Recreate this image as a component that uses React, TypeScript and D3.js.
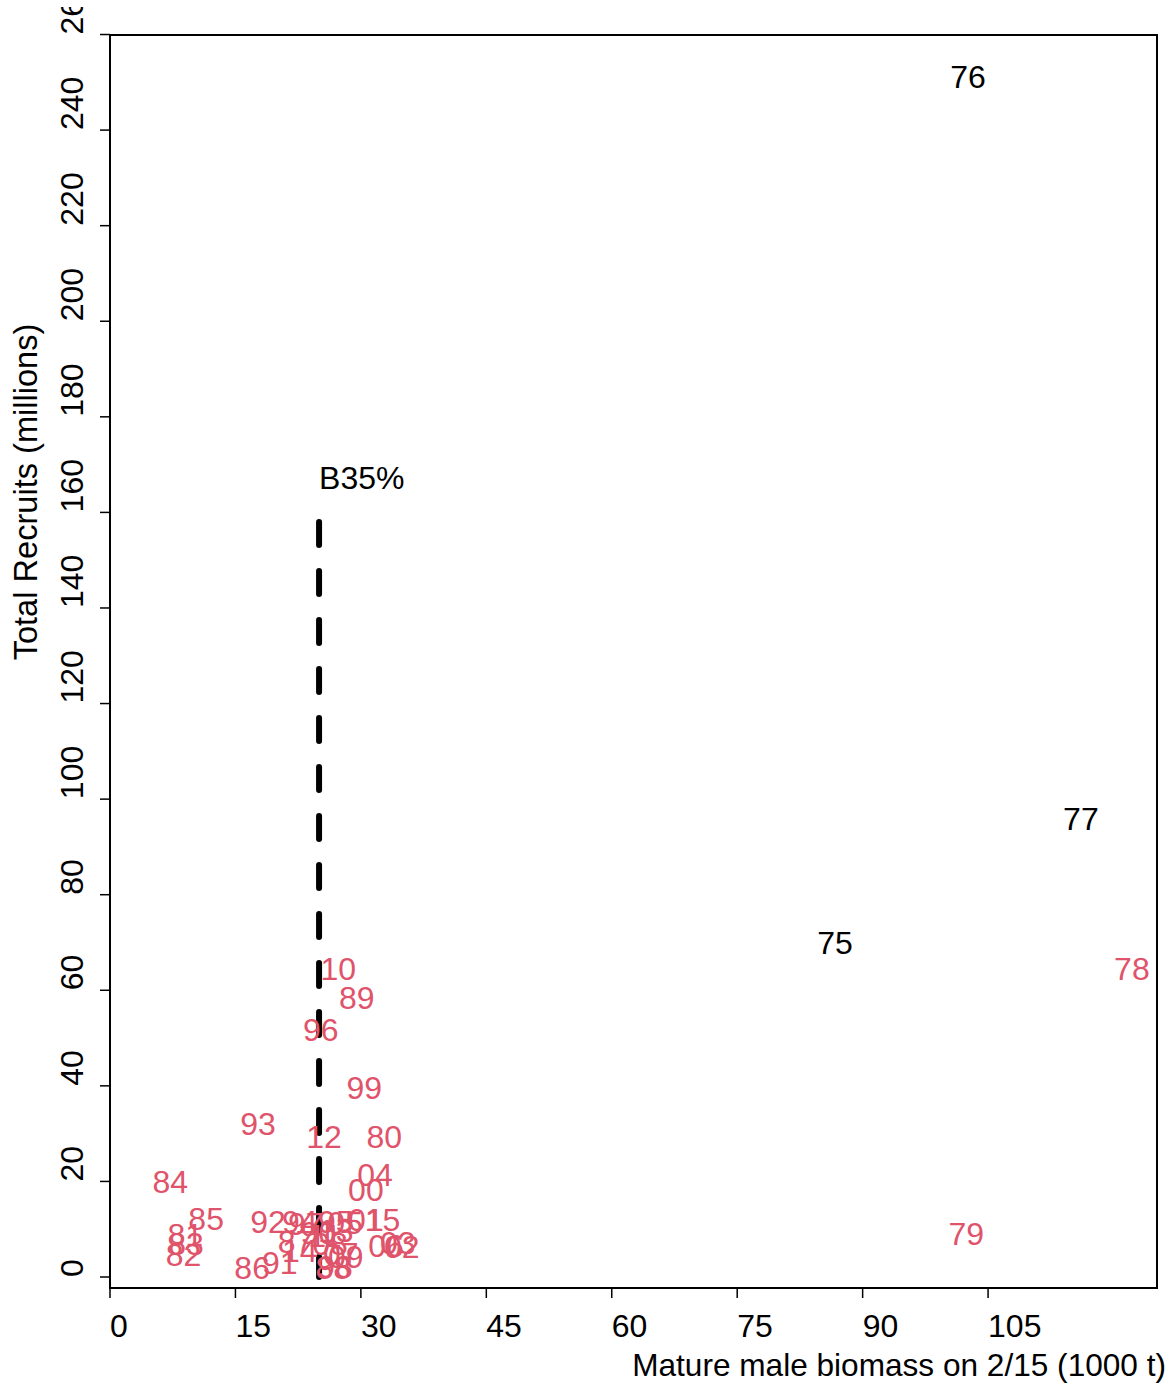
import React from "react";
import * as d3 from "d3";

// Year labels (brood years), spawning biomass (1000 t) and total recruits (millions)
const blackYears = ["75", "76", "77"];
const blackBiomass = [86.7, 102.6, 116.1];
const blackRecruits = [69.9, 251.2, 96.0];

const redYears = [
  "78", "79", "80", "81", "82", "83", "84", "85", "86", "87", "88", "89", "90", "91", "92", "93", "94", "95", "96", "97", "98", "99",
  "00", "01", "02", "03", "04", "05", "06", "07", "08", "09", "10", "11", "12", "13", "14", "15",
];
const redBiomass = [
  122.2, 102.4, 32.8, 9.0, 8.8, 9.1, 7.2, 11.5, 17.0, 22.2, 26.7, 29.5, 24.9, 20.3, 18.9, 17.7, 22.7, 27.0, 25.2, 23.4, 26.9, 30.4,
  30.6, 30.6, 34.9, 34.4, 31.7, 28.1, 33.0, 27.6, 26.3, 28.2, 27.3, 25.7, 25.6, 27.0, 22.7, 32.6,
];
const redRecruits = [
  64.6, 9.0, 29.3, 8.8, 4.8, 6.9, 19.9, 12.3, 1.9, 7.5, 1.9, 58.4, 9.2, 3.1, 11.7, 32.2, 11.7, 11.7, 51.7, 11.1, 2.1, 39.7,
  18.4, 12.1, 6.3, 7.3, 21.5, 11.5, 6.5, 5.0, 6.9, 4.2, 64.6, 8.6, 29.3, 9.8, 5.6, 12.1,
];

const xTicks = [0, 15, 30, 45, 60, 75, 90, 105];
const yTicks = [0, 20, 40, 60, 80, 100, 120, 140, 160, 180, 200, 220, 240, 260];

const B35 = 25.0;
const B35Top = 158;
const B35LabelY = 167.3;
const B35Label = "B35%";

const xTitle = "Mature male biomass on 2/15 (1000 t)";
const yTitle = "Total Recruits (millions)";

const W = 1174;
const H = 1392;
const LEFT = 110;
const RIGHT = 1157;
const TOP = 35;
const BOTTOM = 1288;
const RED = "#DF536B";
const FONT = "'Liberation Sans', Arial, Helvetica, sans-serif";
const FS = 32;

export default function App() {
  const x = d3.scaleLinear().domain([0, 125.2]).range([LEFT, RIGHT]);
  const y = d3.scaleLinear().domain([-2.3, 259.9]).range([BOTTOM, TOP]);
  const line = d3.line<[number, number]>().x((d) => x(d[0])).y((d) => y(d[1]));

  const blacks = blackYears.map((lab, i) => ({ lab, bx: blackBiomass[i], ry: blackRecruits[i] }));
  const reds = redYears.map((lab, i) => ({ lab, bx: redBiomass[i], ry: redRecruits[i] }));

  return (
    <svg
      width={W}
      height={H}
      style={{ position: "absolute", left: 0, top: 0, background: "#fff" }}
      fontFamily={FONT}
    >
      <defs>
        <clipPath id="figclip">
          <rect x={0} y={7} width={W} height={H - 7} />
        </clipPath>
      </defs>
      <rect x={0} y={0} width={W} height={H} fill="#fff" />
      {/* plot box */}
      <rect x={LEFT} y={TOP} width={RIGHT - LEFT} height={BOTTOM - TOP} fill="none" stroke="#000" strokeWidth={2} />

      {/* x axis */}
      {xTicks.map((t) => (
        <g key={"xt" + t}>
          <line x1={x(t)} x2={x(t)} y1={BOTTOM} y2={BOTTOM + 10} stroke="#000" strokeWidth={1.5} />
          <text x={x(t)} y={1337} fontSize={FS} textAnchor="start" fill="#000">
            {t}
          </text>
        </g>
      ))}

      {/* y axis */}
      <g clipPath="url(#figclip)">
        {yTicks.map((t) => (
          <g key={"yt" + t}>
            <line x1={LEFT - 10} x2={LEFT} y1={y(t)} y2={y(t)} stroke="#000" strokeWidth={1.5} />
            <text
              transform={`translate(83,${y(t)}) rotate(-90)`}
              fontSize={FS}
              textAnchor="start"
              fill="#000"
            >
              {t}
            </text>
          </g>
        ))}
      </g>

      {/* titles */}
      <text x={1166} y={1376} fontSize={31.6} textAnchor="end" fill="#000">
        {xTitle}
      </text>
      <text transform={`translate(37,492) rotate(-90)`} fontSize={32.6} textAnchor="middle" fill="#000">
        {yTitle}
      </text>

      {/* B35% reference line */}
      <path
        d={line([[B35, B35Top], [B35, 0]]) || ""}
        fill="none"
        stroke="#000"
        strokeWidth={6}
        strokeDasharray="23 26"
        strokeLinecap="round"
      />
      <text x={x(B35)} y={y(B35LabelY)} dy="0.358em" fontSize={FS} textAnchor="start" fill="#000">
        {B35Label}
      </text>

      {/* year labels */}
      {blacks.map((d) => (
        <text key={"b" + d.lab} x={x(d.bx)} y={y(d.ry)} dy="0.358em" fontSize={FS} textAnchor="middle" fill="#000">
          {d.lab}
        </text>
      ))}
      {reds.map((d) => (
        <text key={"r" + d.lab} x={x(d.bx)} y={y(d.ry)} dy="0.358em" fontSize={FS} textAnchor="middle" fill={RED}>
          {d.lab}
        </text>
      ))}
    </svg>
  );
}
